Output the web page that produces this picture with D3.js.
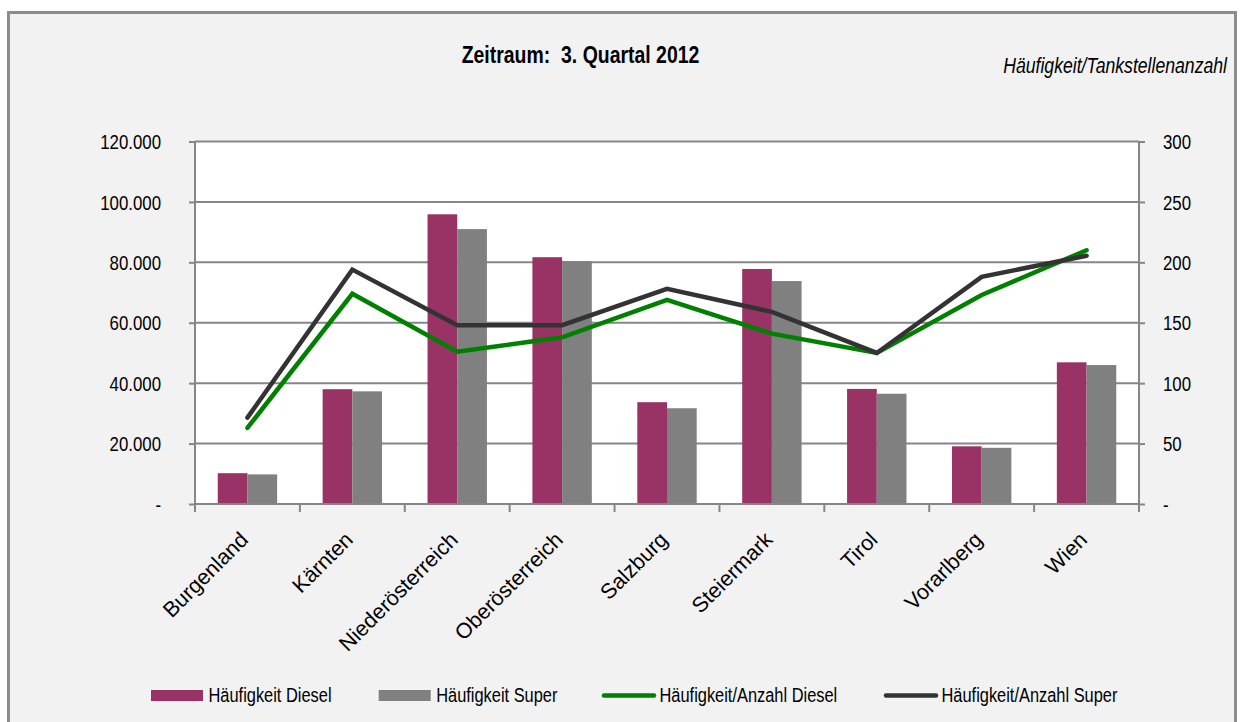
<!DOCTYPE html>
<html><head><meta charset="utf-8">
<script src="https://cdn.jsdelivr.net/npm/d3@7"></script>
<style>
html,body{margin:0;padding:0;background:#fff;}
svg{display:block;}
text{font-family:"Liberation Sans",Arial,sans-serif;fill:#000;}
</style></head>
<body>
<svg id="c" width="1240" height="722"></svg>
<script>
const categories = ["Burgenland","Kärnten","Niederösterreich","Oberösterreich","Salzburg","Steiermark","Tirol","Vorarlberg","Wien"];
const haeufigkeitDiesel = [10200, 38000, 95900, 81700, 33700, 77800, 38100, 19100, 46900];
const haeufigkeitSuper  = [9800, 37300, 91000, 80400, 31700, 73800, 36500, 18600, 46000];
const anzahlDiesel = [63, 174, 126, 138, 169, 141, 125, 173, 210];
const anzahlSuper  = [71.5, 194, 148, 148, 178, 159, 125, 188, 205.5];
const leftTicks = [0, 20000, 40000, 60000, 80000, 100000, 120000];
const rightTicks = [0, 50, 100, 150, 200, 250, 300];
const seriesNames = ["Häufigkeit Diesel","Häufigkeit Super","Häufigkeit/Anzahl Diesel","Häufigkeit/Anzahl Super"];
const colors = ["#993366","#808080","#008000","#333333"];
const titleText = "Zeitraum:  3. Quartal 2012";
const subtitleText = "Häufigkeit/Tankstellenanzahl";

const svg = d3.select("#c");
// condense text to imitate a narrow face
function narrow(sel, f){
  f = f || 0.82;
  sel.each(function(){
    const l = this.getComputedTextLength();
    d3.select(this).attr("textLength", l*f).attr("lengthAdjust","spacingAndGlyphs");
  });
}

svg.append("rect").attr("x",8.5).attr("y",12.5).attr("width",1227).attr("height",720)
  .attr("fill","#f2f2f2").attr("stroke","#8c8c8c").attr("stroke-width",3);

const L=195, R=1139, T=141.5, B=504;
const x = d3.scaleBand().domain(categories).range([L,R]).paddingInner(0).paddingOuter(0);
const yL = d3.scaleLinear().domain([0,120000]).range([B,T]);
const yR = d3.scaleLinear().domain([0,300]).range([B,T]);

svg.append("rect").attr("x",L).attr("y",T).attr("width",R-L).attr("height",B-T).attr("fill","#fff");

svg.append("g").selectAll("line").data(leftTicks.slice(1)).join("line")
  .attr("x1",L).attr("x2",R).attr("y1",d=>yL(d)).attr("y2",d=>yL(d))
  .attr("stroke","#868686").attr("stroke-width",2);

const fmt = v => v===0 ? "-" : d3.format(",")(v).replace(/,/g,".");

const gL = svg.append("g").attr("transform",`translate(${L},0)`)
  .call(d3.axisLeft(yL).tickValues(leftTicks).tickFormat(fmt).tickSize(6).tickPadding(28));
gL.select(".domain").attr("stroke","#868686").attr("stroke-width",2).attr("d",`M0,${T}V${B}`);
gL.selectAll(".tick line").attr("stroke","#868686").attr("stroke-width",2);
gL.selectAll(".tick text").attr("font-size",20.5).attr("fill","#000").attr("dy","0.35em")
  .attr("font-family","'Liberation Sans',Arial,sans-serif");
narrow(gL.selectAll(".tick text"));

const gR = svg.append("g").attr("transform",`translate(${R},0)`)
  .call(d3.axisRight(yR).tickValues(rightTicks).tickFormat(fmt).tickSize(6).tickPadding(18));
gR.select(".domain").attr("stroke","#868686").attr("stroke-width",2).attr("d",`M0,${T}V${B}`);
gR.selectAll(".tick line").attr("stroke","#868686").attr("stroke-width",2);
gR.selectAll(".tick text").attr("font-size",20.5).attr("fill","#000").attr("dy","0.35em")
  .attr("font-family","'Liberation Sans',Arial,sans-serif");
narrow(gR.selectAll(".tick text"));

const bw = 29.7;
const bars = svg.append("g");
categories.forEach((c,i)=>{
  const cx = x(c)+x.bandwidth()/2;
  bars.append("rect").attr("x",cx-bw).attr("y",yL(haeufigkeitDiesel[i])).attr("width",bw)
    .attr("height",B-yL(haeufigkeitDiesel[i])).attr("fill",colors[0]);
  bars.append("rect").attr("x",cx).attr("y",yL(haeufigkeitSuper[i])).attr("width",bw)
    .attr("height",B-yL(haeufigkeitSuper[i])).attr("fill",colors[1]);
});

const gX = svg.append("g").attr("transform",`translate(0,${B})`);
gX.append("line").attr("x1",L).attr("x2",R).attr("stroke","#868686").attr("stroke-width",2);
const boundaries = categories.map(c=>x(c)).concat([R]);
gX.selectAll("line.t").data(boundaries).join("line").attr("class","t")
  .attr("x1",d=>d).attr("x2",d=>d).attr("y1",0).attr("y2",8).attr("stroke","#868686").attr("stroke-width",2);
gX.selectAll("text").data(categories).join("text")
  .attr("transform",d=>`translate(${x(d)+x.bandwidth()/2+2},37) rotate(-45)`)
  .attr("text-anchor","end").attr("font-size",21.5).text(d=>d);

const line = d3.line().x((d,i)=>x(categories[i])+x.bandwidth()/2).y(d=>yR(d));
svg.append("path").datum(anzahlDiesel).attr("d",line).attr("fill","none")
  .attr("stroke",colors[2]).attr("stroke-width",4.5).attr("stroke-linecap","round");
svg.append("path").datum(anzahlSuper).attr("d",line).attr("fill","none")
  .attr("stroke",colors[3]).attr("stroke-width",4.5).attr("stroke-linecap","round");

const title = svg.append("text").attr("x",580.5).attr("y",62.5).attr("text-anchor","middle")
  .attr("font-size",24).attr("font-weight","bold").attr("xml:space","preserve").style("white-space","pre").text(titleText);
narrow(title, 0.81);
const sub = svg.append("text").attr("x",1227).attr("y",73).attr("text-anchor","end")
  .attr("font-size",21.5).attr("font-style","italic").text(subtitleText);
narrow(sub);

const legX = [151,378.7,602,884];
const lg = svg.append("g");
seriesNames.forEach((n,i)=>{
  if(i<2){
    lg.append("rect").attr("x",legX[i]).attr("y",690).attr("width",52).attr("height",11).attr("fill",colors[i]);
  } else {
    lg.append("line").attr("x1",legX[i]+2).attr("x2",legX[i]+52).attr("y1",695.5).attr("y2",695.5)
      .attr("stroke",colors[i]).attr("stroke-width",4.5).attr("stroke-linecap","round");
  }
  const t = lg.append("text").attr("x",legX[i]+57.5).attr("y",702).attr("font-size",20).text(n);
  narrow(t);
});
</script>
</body></html>
